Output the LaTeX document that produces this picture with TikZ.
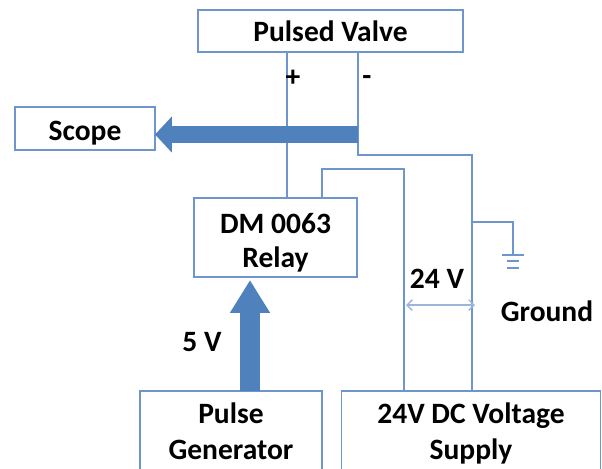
\documentclass[tikz,border=0pt]{standalone}
\usepackage{fontspec}
\setmainfont{Carlito}
\usetikzlibrary{arrows.meta}
\definecolor{boxblue}{RGB}{110,150,205}
\definecolor{fatblue}{RGB}{79,129,189}
\tikzset{
    labelbox/.style={draw=boxblue, fill=white, line width=0.9pt, font=\fontsize{16.8}{20.5}\selectfont\bfseries, align=center, inner sep=0pt, text depth=0pt},
    wire/.style={draw=boxblue, line width=0.9pt},
    fatleft/.style={draw=fatblue, line width=9.6pt, -{Triangle[length=9.6pt, width=20pt]}},
    fatup/.style={draw=fatblue, line width=11.3pt, -{Triangle[length=18.7pt, width=21.5pt]}},
    plainlabel/.style={font=\fontsize{16.8}{20.5}\selectfont\bfseries, inner sep=0pt}
}
\begin{document}
\begin{tikzpicture}[x=0.02cm, y=-0.02cm]
    \useasboundingbox (0, 0) rectangle (602, 468);
    \clip (0, 0) rectangle (602, 468);
    % wires first, boxes go on top
    \coordinate (plustop) at (287, 52);
    \coordinate (minustop) at (358, 52);
    \coordinate (minuscorner) at (358, 155);
    \coordinate (minusend) at (472, 391);
    \coordinate (relayout) at (322, 198);
    \coordinate (supplyin) at (404, 391);
    \coordinate (groundtap) at (472, 222);
    \coordinate (groundtop) at (513, 255);
    \coordinate (scopetap) at (358, 134.5);
    \coordinate (scopetip) at (155, 134.5);
    \coordinate (pulsetap) at (250, 391);
    \coordinate (relaytip) at (250, 280);
    \node[labelbox, minimum width=265*0.02cm, minimum height=42*0.02cm] (valve) at (330.5, 31) {Pulsed Valve};
    \node[labelbox, minimum width=140*0.02cm, minimum height=43*0.02cm, text height=14pt] (scope) at (85, 128.5) {Scope};
    \node[labelbox, minimum width=163*0.02cm, minimum height=79*0.02cm] (relay) at (275.5, 237.5) {\rule{0pt}{15pt}DM 0063\\[-1pt]Relay};
    \node[labelbox, minimum width=182*0.02cm, minimum height=80*0.02cm] (pulse) at (231, 431) {Pulse\\Generator};
    \node[labelbox, minimum width=259*0.02cm, minimum height=80*0.02cm] (supply) at (471, 431) {24V DC Voltage\\Supply};
    \draw[wire] (plustop) -- (plustop |- relay.north);
    \draw[wire] (minustop) -- (minuscorner) -| (minusend);
    \draw[wire] (relayout) |- (404, 169) -- (supplyin);
    \draw[wire] (groundtap) -| (groundtop);
    \draw[fatleft] (scopetap) -- (scopetip);
    \draw[fatup] (pulsetap) -- (relaytip);
    % ground symbol
    \draw[boxblue, line width=1.4pt] (502, 255) -- (524, 255);
    \draw[boxblue, line width=1.4pt] (507, 261) -- (519, 261);
    \draw[boxblue, line width=1.4pt] (507, 268) -- (519, 268);
    % voltage span
    \coordinate (spanleft) at (406, 305);
    \coordinate (spanright) at (475, 305);
    \draw[boxblue!70, line width=0.8pt, {Straight Barb[length=3pt, width=6pt]}-{Straight Barb[length=3pt, width=6pt]}] (spanleft) -- (spanright);
    \node[plainlabel] (plus) at (293, 78) {+};
    \node[plainlabel] (minus) at (367, 81) {-};
    \node[plainlabel] (fivev) at (202, 342) {5 V};
    \node[plainlabel] (twentyfour) at (437, 279) {24 V};
    \node[plainlabel] (ground) at (547, 311) {Ground};
\end{tikzpicture}
\end{document}
